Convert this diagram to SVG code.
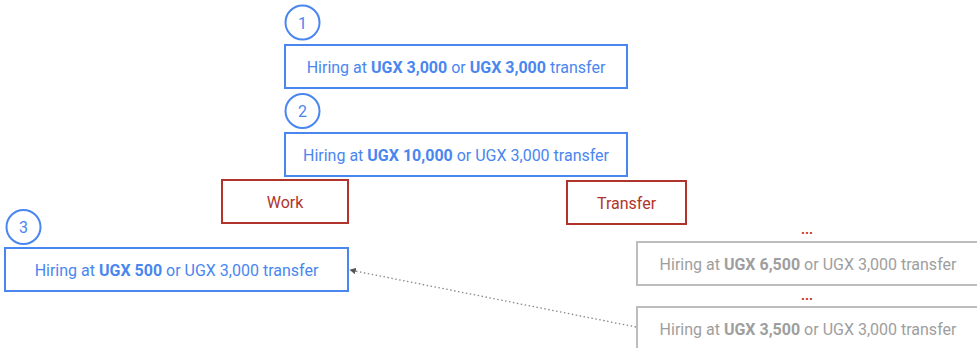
<svg xmlns="http://www.w3.org/2000/svg" width="977" height="348" viewBox="0 0 977 348">
  <style>
    text { font-family: Roboto, "Liberation Sans", sans-serif; font-size: 16px; text-anchor: middle; }
    .blue rect, .blue circle { fill: #fff; stroke: #4a86f0; stroke-width: 2; }
    .blue text { fill: #4a86f0; }
    .grey rect { fill: #fff; stroke: #bdbdbd; stroke-width: 2; }
    .grey text { fill: #9e9e9e; }
    .red rect { fill: #fff; stroke: #b0342c; stroke-width: 2; }
    .red text { fill: #b0342c; }
    .ellipsis { fill: #c0392b; font-weight: bold; font-size: 14px; }
    b, .b { font-weight: bold; }
  </style>
  <defs>
    <marker id="arrow" viewBox="0 0 10 10" refX="9" refY="5" markerWidth="5" markerHeight="5" orient="auto">
      <path d="M0,0 L10,5 L0,10 z" fill="#555"/>
    </marker>
  </defs>
  <rect width="977" height="348" fill="#fff"/>

  <g id="connectors">
    <line x1="636" y1="327" x2="350" y2="270" stroke="#888" stroke-width="1.3" stroke-dasharray="1.5 2.5" marker-end="url(#arrow)"/>
  </g>

  <g id="step1" class="blue">
    <circle cx="302.5" cy="22.5" r="17"/>
    <text x="302.5" y="28.5">1</text>
  </g>
  <g id="offer1" class="blue">
    <rect x="285" y="45" width="342" height="43"/>
    <text x="456" y="72.5">Hiring at <tspan class="b">UGX 3,000</tspan> or <tspan class="b">UGX 3,000</tspan> transfer</text>
  </g>

  <g id="step2" class="blue">
    <circle cx="302.5" cy="111" r="17"/>
    <text x="302.5" y="117">2</text>
  </g>
  <g id="offer2" class="blue">
    <rect x="285" y="133" width="342" height="43"/>
    <text x="456" y="160.5">Hiring at <tspan class="b">UGX 10,000</tspan> or UGX 3,000 transfer</text>
  </g>

  <g id="work" class="red">
    <rect x="222" y="180" width="126" height="43"/>
    <text x="285" y="207.5">Work</text>
  </g>

  <g id="transfer" class="red">
    <rect x="567" y="181" width="119" height="43"/>
    <text x="626.5" y="208.5">Transfer</text>
  </g>

  <g id="step3" class="blue">
    <circle cx="23.5" cy="227" r="17"/>
    <text x="23.5" y="233">3</text>
  </g>
  <g id="offer3" class="blue">
    <rect x="5" y="248" width="343" height="43"/>
    <text x="176.5" y="275.5">Hiring at <tspan class="b">UGX 500</tspan> or UGX 3,000 transfer</text>
  </g>

  <g id="gap1">
    <text class="ellipsis" x="807" y="234">...</text>
  </g>
  <g id="offer6500" class="grey">
    <rect x="637" y="242" width="350" height="43"/>
    <text x="808" y="270">Hiring at <tspan class="b">UGX 6,500</tspan> or UGX 3,000 transfer</text>
  </g>

  <g id="gap2">
    <text class="ellipsis" x="807" y="300">...</text>
  </g>
  <g id="offer3500" class="grey">
    <rect x="637" y="307" width="350" height="60"/>
    <text x="808" y="335">Hiring at <tspan class="b">UGX 3,500</tspan> or UGX 3,000 transfer</text>
  </g>
</svg>
